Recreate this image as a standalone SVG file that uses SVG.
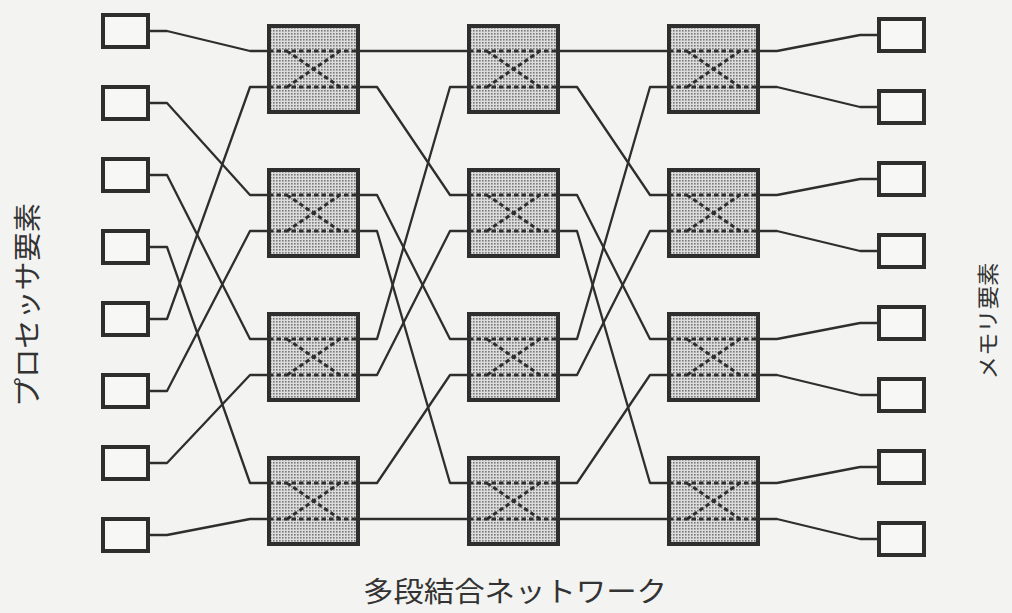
<svg xmlns="http://www.w3.org/2000/svg" width="1012" height="613" viewBox="0 0 1012 613">
<defs>
<pattern id="dots" width="3" height="3" patternUnits="userSpaceOnUse">
<rect width="3" height="3" fill="#dcdcdc"/>
<rect x="0" y="0" width="1.6" height="1.6" fill="#7a7a7a"/>
</pattern>
<g id="sw">
<rect x="2" y="2" width="89" height="86" fill="url(#dots)" stroke="#2e2e2e" stroke-width="4"/>
<path d="M2,27H91M2,63H91M20,27L73,63M20,63L73,27" fill="none" stroke="#2e2e2e" stroke-width="3" stroke-dasharray="4.5 3"/>
</g>
</defs>
<style>
.box{fill:#f7f7f5;stroke:#2e2e2e;stroke-width:4}
.wire{fill:none;stroke:#2e2e2e;stroke-width:2.3;stroke-linejoin:round}
.lbl{font-family:"Noto Sans CJK JP",sans-serif;fill:#333}
</style>
<rect width="1012" height="613" fill="#f3f3f1"/>

<g id="connectors">
<path class="wire" d="M150,31H167L250,51H267"/>
<path class="wire" d="M150,103H167L250,195H267"/>
<path class="wire" d="M150,175H167L250,339H267"/>
<path class="wire" d="M150,247H167L250,483H267"/>
<path class="wire" d="M150,319H167L250,87H267"/>
<path class="wire" d="M150,391H167L250,231H267"/>
<path class="wire" d="M150,463H167L250,375H267"/>
<path class="wire" d="M150,535H167L250,519H267"/>

<path class="wire" d="M360,51H467"/>
<path class="wire" d="M360,87H377L450,195H467"/>
<path class="wire" d="M360,195H377L450,339H467"/>
<path class="wire" d="M360,231H377L450,483H467"/>
<path class="wire" d="M360,339H377L450,87H467"/>
<path class="wire" d="M360,375H377L450,231H467"/>
<path class="wire" d="M360,483H377L450,375H467"/>
<path class="wire" d="M360,519H467"/>

<path class="wire" d="M560,51H667"/>
<path class="wire" d="M560,87H577L650,195H667"/>
<path class="wire" d="M560,195H577L650,339H667"/>
<path class="wire" d="M560,231H577L650,483H667"/>
<path class="wire" d="M560,339H577L650,87H667"/>
<path class="wire" d="M560,375H577L650,231H667"/>
<path class="wire" d="M560,483H577L650,375H667"/>
<path class="wire" d="M560,519H667"/>

<path class="wire" d="M760,51H777L860,35H877"/>
<path class="wire" d="M760,87H777L860,107H877"/>
<path class="wire" d="M760,195H777L860,179H877"/>
<path class="wire" d="M760,231H777L860,251H877"/>
<path class="wire" d="M760,339H777L860,323H877"/>
<path class="wire" d="M760,375H777L860,395H877"/>
<path class="wire" d="M760,483H777L860,467H877"/>
<path class="wire" d="M760,519H777L860,539H877"/>
</g>

<g id="P0"><rect class="box" x="103" y="15" width="45" height="32"/></g>
<g id="P1"><rect class="box" x="103" y="87" width="45" height="32"/></g>
<g id="P2"><rect class="box" x="103" y="159" width="45" height="32"/></g>
<g id="P3"><rect class="box" x="103" y="231" width="45" height="32"/></g>
<g id="P4"><rect class="box" x="103" y="303" width="45" height="32"/></g>
<g id="P5"><rect class="box" x="103" y="375" width="45" height="32"/></g>
<g id="P6"><rect class="box" x="103" y="447" width="45" height="32"/></g>
<g id="P7"><rect class="box" x="103" y="519" width="45" height="32"/></g>

<g id="S1-0"><use href="#sw" x="267" y="24"/></g>
<g id="S1-1"><use href="#sw" x="267" y="168"/></g>
<g id="S1-2"><use href="#sw" x="267" y="312"/></g>
<g id="S1-3"><use href="#sw" x="267" y="456"/></g>
<g id="S2-0"><use href="#sw" x="467" y="24"/></g>
<g id="S2-1"><use href="#sw" x="467" y="168"/></g>
<g id="S2-2"><use href="#sw" x="467" y="312"/></g>
<g id="S2-3"><use href="#sw" x="467" y="456"/></g>
<g id="S3-0"><use href="#sw" x="667" y="24"/></g>
<g id="S3-1"><use href="#sw" x="667" y="168"/></g>
<g id="S3-2"><use href="#sw" x="667" y="312"/></g>
<g id="S3-3"><use href="#sw" x="667" y="456"/></g>

<g id="M0"><rect class="box" x="879" y="19" width="45" height="32"/></g>
<g id="M1"><rect class="box" x="879" y="91" width="45" height="32"/></g>
<g id="M2"><rect class="box" x="879" y="163" width="45" height="32"/></g>
<g id="M3"><rect class="box" x="879" y="235" width="45" height="32"/></g>
<g id="M4"><rect class="box" x="879" y="307" width="45" height="32"/></g>
<g id="M5"><rect class="box" x="879" y="379" width="45" height="32"/></g>
<g id="M6"><rect class="box" x="879" y="451" width="45" height="32"/></g>
<g id="M7"><rect class="box" x="879" y="523" width="45" height="32"/></g>

<g id="labels">
<text class="lbl" font-size="28" text-anchor="middle" textLength="204" lengthAdjust="spacingAndGlyphs" transform="translate(38,305) rotate(-90)">プロセッサ要素</text>
<text class="lbl" font-size="22" text-anchor="middle" textLength="117" lengthAdjust="spacingAndGlyphs" transform="translate(996,321) rotate(-90)">メモリ要素</text>
<text class="lbl" font-size="28" text-anchor="middle" textLength="304" lengthAdjust="spacingAndGlyphs" x="515" y="602">多段結合ネットワーク</text>
</g>
</svg>
